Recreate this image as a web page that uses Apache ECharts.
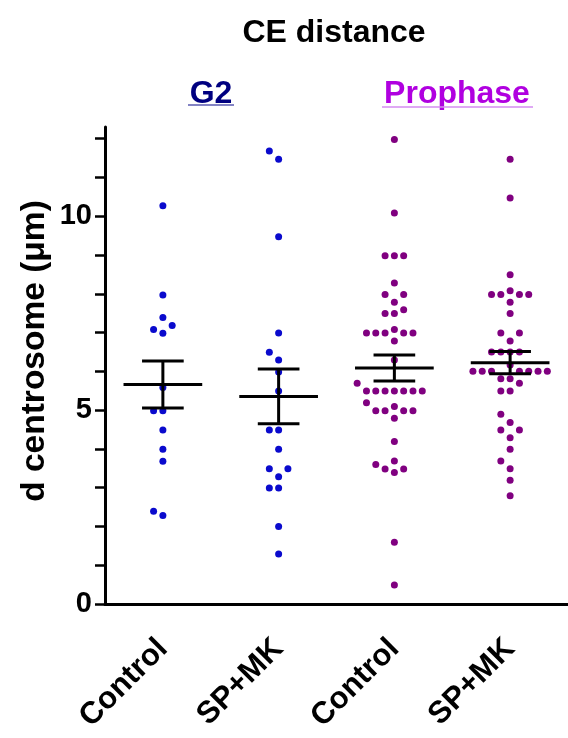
<!DOCTYPE html>
<html><head><meta charset="utf-8">
<script src="https://cdn.jsdelivr.net/npm/echarts@6/dist/echarts.min.js"></script>
<style>html,body{margin:0;padding:0;background:#fff}#c{width:568px;height:738px}</style>
</head><body><div id="c"></div>
<script>
// ---- data ----
const categories = ['Control', 'SP+MK', 'Control', 'SP+MK'];
const groupNames = ['G2', 'Prophase'];
const chartTitle = 'CE distance';
const yAxisName = 'd centrosome (\u03bcm)';
const yTickValues = [0, 1, 2, 3, 4, 5, 6, 7, 8, 9, 10, 11, 12];
const yLabelValues = [0, 5, 10];

const g2Control = [10.27, 7.97, 7.39, 7.18, 7.08, 6.98, 5.58, 4.98, 4.98, 4.49, 3.99, 3.68, 2.39, 2.28];
const g2SPMK = [11.68, 11.47, 9.47, 6.99, 6.49, 6.29, 5.98, 5.49, 4.49, 4.49, 3.99, 3.49, 3.49, 3.28, 2.99, 2.99, 2.0, 1.29];
const prophaseControl = [11.98, 10.08, 8.98, 8.98, 8.98, 8.28, 7.98, 7.98, 7.78, 7.59, 7.49, 7.49, 7.08,
  6.99, 6.99, 6.99, 6.99, 6.99, 6.78, 6.29, 5.69, 5.49, 5.49, 5.49, 5.49, 5.49, 5.49, 5.49, 5.19, 5.09,
  4.98, 4.98, 4.98, 4.98, 4.79, 4.19, 3.69, 3.60, 3.48, 3.48, 3.39, 1.59, 0.49];
const prophaseSPMK = [11.47, 10.47, 8.49, 8.08, 7.98, 7.98, 7.98, 7.98, 7.78, 7.49, 6.99, 6.99, 6.78,
  6.5, 6.5, 6.5, 6.5, 6.16, 6.0, 6.0, 6.0, 6.0, 6.0, 6.0, 6.0, 5.81, 5.81, 5.69, 5.49, 5.49,
  4.89, 4.68, 4.49, 4.49, 4.29, 3.99, 3.69, 3.49, 3.19, 2.79];

const groups = [g2Control, g2SPMK, prophaseControl, prophaseSPMK];
const groupColors = ['#0a0acd', '#0a0acd', '#800080', '#800080'];

// ---- layout ----
const W = 568, H = 738;
const gridLeft = 105, gridRight = 0, gridTop = 127, gridBottom = 134;
const yMax = 12.3;
const plotH = H - gridTop - gridBottom;
const bandPx = (W - gridLeft - gridRight) / categories.length;
const pxPerY = plotH / yMax;
const slotPx = 9.3, minDist = 9;

function swarm(values) {
  const sorted = values.slice().sort((a, b) => a - b);
  const placed = [];
  sorted.forEach(v => {
    const y = v * pxPerY;
    for (let k = 0; ; k++) {
      const s = k === 0 ? 0 : (k % 2 ? -Math.ceil(k / 2) : k / 2);
      if (placed.every(p => Math.hypot((p.s - s) * slotPx, p.y - y) >= minDist)) {
        placed.push({ s, y, v });
        break;
      }
    }
  });
  return placed;
}

function meanSem(a) {
  const n = a.length;
  const m = a.reduce((s, v) => s + v, 0) / n;
  const sd = Math.sqrt(a.reduce((s, v) => s + (v - m) * (v - m), 0) / (n - 1));
  return [m, sd / Math.sqrt(n)];
}

const scatterSeries = groups.map((vals, i) => ({
  type: 'scatter',
  xAxisIndex: 1,
  symbolSize: 7,
  itemStyle: { color: groupColors[i], opacity: 1 },
  z: 2,
  silent: true,
  data: swarm(vals).map(p => [i + p.s * slotPx / bandPx, p.v])
}));

const statData = groups.map((vals, i) => {
  const [m, e] = meanSem(vals);
  return [i, m, e];
});

const font = (sz) => 'bold ' + sz + 'px "Liberation Sans", Arial, Helvetica, sans-serif';

const chart = echarts.init(document.getElementById('c'), null, { renderer: 'canvas' });
chart.setOption({
  animation: false,
  backgroundColor: '#fff',
  grid: { left: gridLeft, right: gridRight, top: gridTop, bottom: gridBottom, containLabel: false },
  xAxis: [{
    type: 'category',
    data: categories,
    boundaryGap: true,
    axisLine: { onZero: false, lineStyle: { color: '#000', width: 3 } },
    axisTick: { alignWithLabel: true, length: 10, lineStyle: { color: '#000', width: 2.5 } },
    axisLabel: { rotate: 45, margin: 40, color: '#000', fontWeight: 'bold', fontSize: 31, fontFamily: '"Liberation Sans", Arial, sans-serif' },
    splitLine: { show: false }
  }, {
    type: 'value', min: -0.5, max: 3.5, show: false
  }],
  yAxis: {
    type: 'value',
    min: 0, max: yMax,
    axisLine: { show: true, onZero: false, lineStyle: { color: '#000', width: 3 } },
    axisTick: { show: true, length: 10, customValues: yTickValues, lineStyle: { color: '#000', width: 2.5 } },
    axisLabel: { customValues: yLabelValues, margin: 13, color: '#000', fontWeight: 'bold', fontSize: 29, fontFamily: '"Liberation Sans", Arial, sans-serif' },
    splitLine: { show: false }
  },
  series: scatterSeries.concat([{
    type: 'custom',
    xAxisIndex: 0,
    z: 5,
    silent: true,
    data: statData,
    renderItem(params, api) {
      const x = api.value(0), m = api.value(1), e = api.value(2);
      const c = api.coord([x, m]);
      const t = api.coord([x, m + e]);
      const b = api.coord([x, m - e]);
      const bw = api.size([1, 0])[0];
      const hw = bw * 0.34, cw = bw * 0.18;
      const st = { stroke: '#000', lineWidth: 3 };
      return { type: 'group', children: [
        { type: 'line', shape: { x1: c[0] - hw, y1: c[1], x2: c[0] + hw, y2: c[1] }, style: st },
        { type: 'line', shape: { x1: c[0], y1: t[1], x2: c[0], y2: b[1] }, style: st },
        { type: 'line', shape: { x1: c[0] - cw, y1: t[1], x2: c[0] + cw, y2: t[1] }, style: st },
        { type: 'line', shape: { x1: c[0] - cw, y1: b[1], x2: c[0] + cw, y2: b[1] }, style: st }
      ]};
    }
  }]),
  graphic: [
    { type: 'text', x: 334, y: 33, style: { text: chartTitle, font: font(32), fill: '#000', textAlign: 'center', textVerticalAlign: 'middle' } },
    { type: 'text', x: 211, y: 94, style: { text: groupNames[0], font: font(32), fill: '#000080', textAlign: 'center', textVerticalAlign: 'middle' } },
    { type: 'line', shape: { x1: 188, y1: 105, x2: 234, y2: 105 }, style: { stroke: '#5a5ab0', lineWidth: 1.5 } },
    { type: 'text', x: 457, y: 94, style: { text: groupNames[1], font: font(32), fill: '#b000e0', textAlign: 'center', textVerticalAlign: 'middle' } },
    { type: 'line', shape: { x1: 382, y1: 107, x2: 533, y2: 107 }, style: { stroke: '#d48cf0', lineWidth: 1.5 } },
    { type: 'text', x: 35, y: 351, rotation: Math.PI / 2, style: { text: yAxisName, font: font(33.5), fill: '#000', textAlign: 'center', textVerticalAlign: 'middle' } }
  ]
});
</script>
</body></html>
